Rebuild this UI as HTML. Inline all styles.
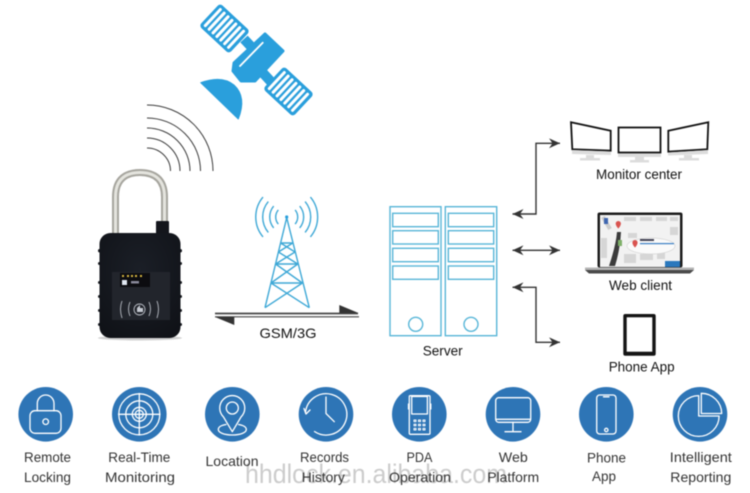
<!DOCTYPE html>
<html><head><meta charset="utf-8"><title>Diagram</title>
<style>
html,body{margin:0;padding:0;background:#fff;width:750px;height:493px;overflow:hidden}
svg{display:block;filter:blur(0.45px)}
text{font-family:"Liberation Sans",sans-serif}
.lb{fill:#111;font-size:14px;text-anchor:middle}
.ft{fill:#333;font-size:14px;text-anchor:middle}
.ic{fill:none;stroke:#fff;stroke-width:1.3;stroke-linecap:round;stroke-linejoin:round}
.tw{fill:none;stroke:#3ea8d6;stroke-width:1.4}
.sv{fill:none;stroke:#58b6d8;stroke-width:1.4}
.ar{fill:none;stroke:#333;stroke-width:1.4}
</style></head><body>
<svg width="750" height="493" viewBox="0 0 750 493" xmlns="http://www.w3.org/2000/svg">
<defs>
<radialGradient id="bd" cx=".5" cy=".35" r=".8"><stop offset="0" stop-color="#1b1f27"/><stop offset="1" stop-color="#0f1116"/></radialGradient>
<marker id="h" markerWidth="12" markerHeight="10" refX="11" refY="5" orient="auto-start-reverse" markerUnits="userSpaceOnUse"><path d="M0,0 L11,5 L0,10 L3.5,5 Z" fill="#333"/></marker>
</defs>

<!-- satellite -->
<g fill="#2a9fdc">
<polygon points="265,34 283,51 255,81 241,81 233,71 234,63" stroke="#2a9fdc" stroke-width="3" stroke-linejoin="round"/>
<path d="M244,39 L257,53 M263,73 L274,85" stroke="#2a9fdc" stroke-width="10"/>
<path d="M200.7,82.7 Q222,75 234,85 Q247,97 238.3,119 Z" stroke="#2a9fdc" stroke-width="1" stroke-linejoin="round"/>
<g transform="translate(224.5,28.5) rotate(43)">
<rect x="-20.5" y="-15.5" width="41" height="31" rx="3.5"/>
<g fill="#fff"><rect x="-17.5" y="-12.5" width="3" height="25" rx="1.4"/><rect x="-12.2" y="-12.5" width="3" height="25" rx="1.4"/><rect x="-6.9" y="-12.5" width="3" height="25" rx="1.4"/><rect x="-1.6" y="-12.5" width="3" height="25" rx="1.4"/><rect x="3.7" y="-12.5" width="3" height="25" rx="1.4"/><rect x="9" y="-12.5" width="3" height="25" rx="1.4"/><rect x="14.3" y="-12.5" width="3" height="25" rx="1.4"/></g>
</g>
<g transform="translate(288.5,91.5) rotate(43)">
<rect x="-20.5" y="-15.5" width="41" height="31" rx="3.5"/>
<g fill="#fff"><rect x="-17.5" y="-12.5" width="3" height="25" rx="1.4"/><rect x="-12.2" y="-12.5" width="3" height="25" rx="1.4"/><rect x="-6.9" y="-12.5" width="3" height="25" rx="1.4"/><rect x="-1.6" y="-12.5" width="3" height="25" rx="1.4"/><rect x="3.7" y="-12.5" width="3" height="25" rx="1.4"/><rect x="9" y="-12.5" width="3" height="25" rx="1.4"/><rect x="14.3" y="-12.5" width="3" height="25" rx="1.4"/></g>
</g>
<path d="M262.7,42.7 L240,66" stroke="#fff" stroke-width="1.8" stroke-linecap="round" fill="none"/>
</g>

<!-- signal arcs -->
<g fill="none" stroke="#3c3c3c" stroke-width="1">
<path d="M147,105 A66,66 0 0 1 213,171"/>
<path d="M147,118 A53.5,53 0 0 1 200.5,171"/>
<path d="M147,128 A43,43 0 0 1 190,171"/>
<path d="M147,138 A33,33 0 0 1 180,171"/>
<path d="M147,148 A23.5,23 0 0 1 170.5,171"/>
</g>

<!-- padlock -->
<ellipse cx="140" cy="338" rx="42" ry="2.5" fill="#d0d0d0"/>
<path d="M115.5,235 V197 C115.5,178 127,172.5 140,172.5 C153,172.5 164.5,178 164.5,197 V225" fill="none" stroke="#a6a59e" stroke-width="7"/>
<path d="M115.5,235 V197 C115.5,178 127,172.5 140,172.5 C153,172.5 164.5,178 164.5,197 V225" fill="none" stroke="#e4e4de" stroke-width="3"/>
<rect x="156" y="221" width="13" height="13" rx="1" fill="#14161c"/>
<g fill="#14161c"><rect x="98" y="249" width="84" height="3.5" rx="1.7"/><rect x="98" y="262" width="84" height="3" rx="1.5"/><rect x="98" y="281" width="84" height="3" rx="1.5"/><rect x="98" y="295" width="84" height="3" rx="1.5"/><rect x="98" y="309" width="84" height="3" rx="1.5"/><rect x="98" y="323" width="84" height="3" rx="1.5"/></g>
<rect x="99.5" y="233" width="81" height="105" rx="11" fill="url(#bd)"/>
<rect x="112" y="272" width="58" height="48" fill="#22252c"/>
<rect x="120" y="273" width="30" height="14" fill="#0c0c10"/>
<rect x="122" y="280" width="5" height="5" fill="#dfe6f0"/>
<g fill="#d8b840"><rect x="122" y="275" width="2" height="2"/><rect x="127" y="275" width="2" height="2"/><rect x="131" y="275" width="2" height="2"/><rect x="135" y="275" width="2" height="2"/><rect x="140" y="275" width="2" height="2"/></g>
<rect x="131" y="281" width="8" height="2.5" fill="#889"/>
<g fill="none" stroke="#b8bcc4" stroke-width=".9">
<circle cx="139.5" cy="309.5" r="5.5"/>
<path d="M130,302 Q127,309 130,316 M149,302 Q152,309 149,316 M122,301 Q119,309 122,318 M157,301 Q160,309 157,318"/>
</g>
<path d="M137,312 V308 L140,305 V308 H143 V312 Z" fill="#c4c8d0"/>

<!-- tower -->
<g class="tw">
<path d="M286.7,217.7 L265,307.7 M286.7,217.7 L309.3,307.7"/>
<path d="M280.6,243 H292.8 M280.6,243 L295,252 M292.8,243 L278.4,252 M278.4,252 L297.8,264 M295,252 L275.6,264 M275.6,264 H297.8 M271,283 H302.4 M275.6,264 L302.4,283 M297.8,264 L271,283 M271,283 L309.3,307.7 M302.4,283 L265,307.7"/>
<path d="M263,197.1 A31,31 0 0 0 263,236.9 M310.4,197.1 A31,31 0 0 1 310.4,236.9"/>
<path d="M268.3,201.6 A24,24 0 0 0 268.3,232.4 M305.1,201.6 A24,24 0 0 1 305.1,232.4"/>
<path d="M273.7,206.1 A17,17 0 0 0 273.7,227.9 M299.7,206.1 A17,17 0 0 1 299.7,227.9"/>
<path d="M278.3,209.9 A11,11 0 0 0 278.3,224.1 M295.1,209.9 A11,11 0 0 1 295.1,224.1"/>
</g>
<circle cx="286.7" cy="217" r="1.6" fill="#2a9fdc"/>

<!-- GSM arrows -->
<path d="M215,313.5 H358" stroke="#444" stroke-width="1.7"/>
<path d="M215,316.8 H359" stroke="#444" stroke-width="1.2"/>
<polygon points="339.3,305 358.5,313 339.3,313" fill="#333"/>
<polygon points="215,317 234.3,317 234.3,325" fill="#333"/>
<text x="288" y="338" class="lb" textLength="57" lengthAdjust="spacingAndGlyphs">GSM/3G</text>

<!-- server -->
<g class="sv">
<rect x="390" y="206.7" width="51" height="129"/>
<rect x="445.3" y="206.7" width="51.4" height="129"/>
<rect x="392.7" y="213.3" width="45.6" height="13.4"/><rect x="392.7" y="230.7" width="45.6" height="13.3"/><rect x="392.7" y="248.3" width="45.6" height="13.4"/><rect x="392.7" y="266" width="45.6" height="13.3"/>
<rect x="448.3" y="213.3" width="45.4" height="13.4"/><rect x="448.3" y="230.7" width="45.4" height="13.3"/><rect x="448.3" y="248.3" width="45.4" height="13.4"/><rect x="448.3" y="266" width="45.4" height="13.3"/>
<circle cx="415.7" cy="324.3" r="7"/><circle cx="471" cy="324.3" r="7"/>
</g>
<text x="442.7" y="355.5" class="lb" textLength="40" lengthAdjust="spacingAndGlyphs">Server</text>

<!-- connector arrows -->
<path class="ar" d="M512.5,214 H536 V143.3 H560" marker-start="url(#h)" marker-end="url(#h)"/>
<path class="ar" d="M512.5,250.3 H560" marker-start="url(#h)" marker-end="url(#h)"/>
<path class="ar" d="M512.5,287.3 H536 V342.3 H560" marker-start="url(#h)" marker-end="url(#h)"/>

<!-- monitors -->
<g fill="#fff" stroke="#111" stroke-width="1.8">
<polygon points="571,122.3 610.7,130.7 610.7,150.7 572.3,149.3"/>
<rect x="618.5" y="127.5" width="42" height="25"/>
<polygon points="668.3,130.7 708.3,122.3 707.3,149.3 668.3,151.7"/>
</g>
<g fill="#dcdcdc">
<polygon points="572,150 611,151.5 611,155 572,154"/><rect x="586" y="155" width="8" height="3"/><rect x="580" y="158" width="20" height="2.5"/>
<rect x="618" y="153.5" width="43" height="3.5"/><rect x="635" y="157" width="9" height="3"/><rect x="630" y="160" width="19" height="2.5"/>
<polygon points="668,152.5 708,150 708,154 668,155.5"/><rect x="684" y="155" width="8" height="3"/><rect x="679" y="158" width="20" height="2.5"/>
</g>
<text x="639" y="179" class="lb" textLength="86" lengthAdjust="spacingAndGlyphs">Monitor center</text>

<!-- laptop -->
<rect x="597.5" y="212.5" width="85" height="55" rx="2" fill="#1c1c1c"/>
<rect x="600" y="215" width="80" height="52" fill="#f2f2f2"/>
<g fill="#d6d6d6">
<rect x="624" y="217" width="12" height="4"/><rect x="640" y="217" width="12" height="4"/><rect x="656" y="217" width="11" height="4"/><rect x="670" y="217" width="8" height="4"/>
<rect x="601" y="238" width="6" height="20"/><rect x="624" y="254" width="12" height="9"/><rect x="640" y="254" width="13" height="6"/><rect x="657" y="252" width="8" height="7"/><rect x="628" y="233" width="9" height="5"/><rect x="670" y="227" width="8" height="8"/>
</g>
<path d="M603,217 L610,229" stroke="#ccc" stroke-width="4"/>
<ellipse cx="651" cy="246" rx="24" ry="8" fill="#fafafa" stroke="#d5d5d5" stroke-width=".7"/>
<path d="M617,232 Q616,245 609,266 H615 Q620,250 621,232 Z" fill="#3b3b3b"/>
<rect x="618" y="240" width="4" height="6" fill="#7fb069"/>
<rect x="604" y="218" width="4" height="6" fill="#3e66b0"/>
<rect x="640" y="243" width="34" height="1.2" fill="#3b7fc4"/>
<rect x="640" y="239" width="14" height="2" fill="#445"/>
<path d="M618.3,221 a2.6,2.6 0 0 1 2.6,2.6 q0,2 -2.6,5 q-2.6,-3 -2.6,-5 a2.6,2.6 0 0 1 2.6,-2.6 Z" fill="#d9534f"/>
<path d="M635,240 a2.6,2.6 0 0 1 2.6,2.6 q0,2 -2.6,5 q-2.6,-3 -2.6,-5 a2.6,2.6 0 0 1 2.6,-2.6 Z" fill="#d9534f"/>
<rect x="665" y="261" width="15" height="6" fill="#2a78bd"/>
<rect x="585" y="267.5" width="109" height="2.5" fill="#b5b5b5"/>
<path d="M585,270 H694 L690,273.5 H589 Z" fill="#4a4a4a"/>
<text x="640.5" y="290" class="lb" textLength="63" lengthAdjust="spacingAndGlyphs">Web client</text>

<!-- tablet -->
<rect x="623.3" y="314" width="32.4" height="41.7" rx="2" fill="#141414"/>
<rect x="626.7" y="317.3" width="25.6" height="34.4" fill="#fff"/>
<text x="641.7" y="371.5" class="lb" textLength="66" lengthAdjust="spacingAndGlyphs">Phone App</text>

<!-- circles -->
<g fill="#2e75b6">
<circle cx="45.7" cy="414.3" r="27.3"/><circle cx="139.3" cy="414.3" r="27.3"/><circle cx="232.3" cy="414.3" r="27.3"/><circle cx="326" cy="414.3" r="27.3"/>
<circle cx="419.3" cy="414.3" r="27.3"/><circle cx="513" cy="414.3" r="27.3"/><circle cx="606.3" cy="414.3" r="27.3"/><circle cx="700" cy="414.3" r="27.3"/>
</g>

<g class="ic">
<!-- lock -->
<rect x="30" y="410.7" width="31" height="22.6" rx="5"/>
<path d="M37.3,410.7 V403.5 A8.35,8.5 0 0 1 54,403.5 V410.7"/>
<circle cx="45.7" cy="421.7" r="2.8"/>
<!-- target -->
<circle cx="139.3" cy="414.3" r="20.5"/><circle cx="139.3" cy="414.3" r="13.5"/><circle cx="139.3" cy="414.3" r="7"/><circle cx="139.3" cy="414.3" r="4"/>
<path d="M118.5,414.3 H160 M139.3,393.5 V435"/>
<!-- location -->
<path d="M232.3,431.7 L223.5,417 A12.5,12.5 0 1 1 241,417 Z"/>
<circle cx="232.3" cy="408" r="6"/>
<path d="M226,424.5 C220,425.5 218.3,427.5 218.3,429.5 C218.3,432.5 224,435 232.3,435 C240.6,435 246.3,432.5 246.3,429.5 C246.3,427.5 244.5,425.5 238.6,424.5"/>
<!-- clock -->
<path d="M305.5,412.5 A20.7,20.7 0 1 1 314.5,431.5"/>
<path d="M304,408.5 L306,414 L310,410"/>
<path d="M326,397 V413.5 L334.3,421.7"/>
<!-- pda -->
<rect x="409.3" y="395.7" width="20.7" height="38.6" rx="1"/>
<rect x="411.7" y="396.5" width="15.7" height="17.5"/>
<path d="M408.5,404 V409 M430.8,404 V409"/>
<g stroke-width="1"><rect x="414" y="420" width="2" height="1.6"/><rect x="418.5" y="420" width="2" height="1.6"/><rect x="423" y="420" width="2" height="1.6"/><rect x="414" y="424.2" width="2" height="1.6"/><rect x="418.5" y="424.2" width="2" height="1.6"/><rect x="423" y="424.2" width="2" height="1.6"/><rect x="414" y="428.4" width="2" height="1.6"/><rect x="418.5" y="428.4" width="2" height="1.6"/><rect x="423" y="428.4" width="2" height="1.6"/></g>
<!-- web monitor -->
<rect x="495.7" y="397.7" width="35" height="24.6" rx="3"/>
<path d="M496,419.3 H530.5 M513,422.3 V431.7 M505,431.7 H521"/>
<!-- phone -->
<rect x="596.7" y="395" width="19.3" height="39" rx="3"/>
<path d="M603.5,396.8 H609"/>
<circle cx="606.3" cy="430" r="1.7"/>
<!-- pie -->
<path d="M698.7,395.6 A20.4,20.4 0 1 0 719.1,416 H698.7 Z"/>
<path d="M701.3,393.3 V413.5 H721.7 A20.4,20.4 0 0 0 701.3,393.3 Z"/>
</g>

<!-- watermark -->
<text x="245" y="483" font-size="27" fill="#9a9a9a" fill-opacity=".5" textLength="262" lengthAdjust="spacingAndGlyphs">hhdlock.en.alibaba.com</text>

<!-- feature labels -->
<text x="47.5" y="462" class="ft" textLength="47" lengthAdjust="spacingAndGlyphs">Remote</text>
<text x="47.5" y="482" class="ft" textLength="47" lengthAdjust="spacingAndGlyphs">Locking</text>
<text x="139.3" y="462" class="ft" textLength="62" lengthAdjust="spacingAndGlyphs">Real-Time</text>
<text x="140" y="482" class="ft" textLength="70" lengthAdjust="spacingAndGlyphs">Monitoring</text>
<text x="232" y="466" class="ft" textLength="53" lengthAdjust="spacingAndGlyphs">Location</text>
<text x="324.5" y="462" class="ft" textLength="49" lengthAdjust="spacingAndGlyphs">Records</text>
<text x="323.3" y="482" class="ft" textLength="43" lengthAdjust="spacingAndGlyphs">History</text>
<text x="419.5" y="462" class="ft" textLength="26" lengthAdjust="spacingAndGlyphs">PDA</text>
<text x="420" y="482" class="ft" textLength="62" lengthAdjust="spacingAndGlyphs">Operation</text>
<text x="513.3" y="462" class="ft" textLength="29" lengthAdjust="spacingAndGlyphs">Web</text>
<text x="513.2" y="482" class="ft" textLength="52" lengthAdjust="spacingAndGlyphs">Platform</text>
<text x="606.5" y="462.5" class="ft" textLength="39" lengthAdjust="spacingAndGlyphs">Phone</text>
<text x="604" y="481" class="ft" textLength="24" lengthAdjust="spacingAndGlyphs">App</text>
<text x="700.8" y="462" class="ft" textLength="62" lengthAdjust="spacingAndGlyphs">Intelligent</text>
<text x="700.8" y="482" class="ft" textLength="61" lengthAdjust="spacingAndGlyphs">Reporting</text>
</svg>
</body></html>
